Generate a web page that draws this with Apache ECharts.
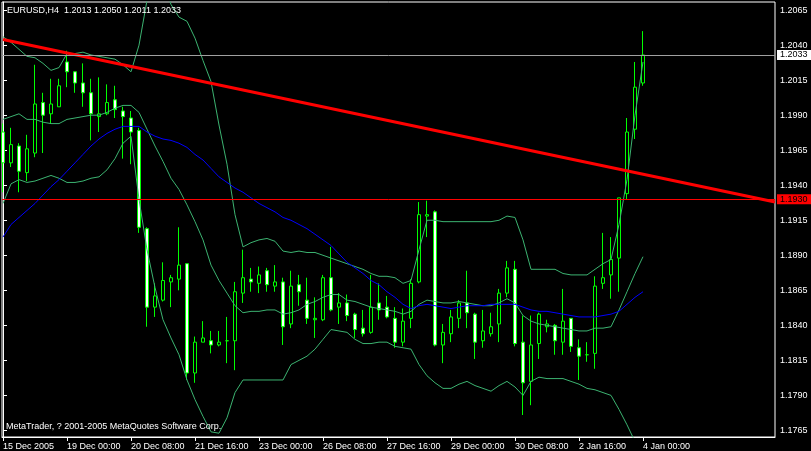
<!DOCTYPE html>
<html>
<head>
<meta charset="utf-8">
<script src="https://cdn.jsdelivr.net/npm/echarts@6/dist/echarts.min.js"></script>
<style>html,body{margin:0;padding:0;background:#000;}#c{width:811px;height:451px;}</style>
</head>
<body>
<div id="c"></div>
<script>
const symbol = 'EURUSD,H4';
const copyright = 'MetaTrader, ? 2001-2005 MetaQuotes Software Corp.';
const xTickIdx = [0, 8, 16, 24, 32, 40, 48, 56, 64, 72, 80];
const xTickLabels = ['15 Dec 2005', '19 Dec 00:00', '20 Dec 08:00', '21 Dec 16:00', '23 Dec 00:00', '26 Dec 08:00', '27 Dec 16:00', '29 Dec 00:00', '30 Dec 08:00', '2 Jan 16:00', '4 Jan 00:00'];
const yTicks = [1.1765, 1.1790, 1.1815, 1.1840, 1.1865, 1.1890, 1.1915, 1.1940, 1.1965, 1.1990, 1.2015, 1.2040, 1.2065];

const open = [1.1978,1.1956,1.1968,1.1949,1.1963,1.1999,1.1991,1.1996,1.2028,1.2021,
1.2013,1.2006,1.1989,1.1991,1.2001,1.1993,1.1988,1.1979,1.1909,1.1853,
1.1858,1.1871,1.1873,1.1884,1.1806,1.1828,1.1829,1.1826,1.1829,1.1829,
1.1863,1.1873,1.1870,1.1879,1.1868,1.1871,1.1841,1.1869,1.1858,1.1844,
1.1844,1.1874,1.1853,1.1856,1.1848,1.1838,1.1835,1.1856,1.1853,1.1845,
1.1828,1.1845,1.1871,1.1918,1.1921,1.1826,1.1834,1.1845,1.1856,1.1848,
1.1829,1.1834,1.1841,1.1863,1.1880,1.1828,1.1800,1.1827,1.1839,1.1840,
1.1828,1.1845,1.1824,1.1819,1.1820,1.1870,1.1876,1.1888,1.1934,1.1980,
1.2013];
const high = [1.1984,1.1981,1.1970,1.1976,1.2026,1.2006,1.2016,1.2016,1.2036,1.2021,
1.2027,1.2016,1.2017,1.2012,1.2011,1.1996,1.1993,1.1981,1.1910,1.1870,
1.1885,1.1876,1.1910,1.1884,1.1832,1.1843,1.1836,1.1836,1.1846,1.1871,
1.1894,1.1881,1.1882,1.1881,1.1883,1.1874,1.1879,1.1876,1.1874,1.1860,
1.1876,1.1896,1.1863,1.1862,1.1849,1.1851,1.1876,1.1870,1.1861,1.1853,
1.1852,1.1873,1.1928,1.1929,1.1922,1.1841,1.1851,1.1858,1.1879,1.1849,
1.1851,1.1849,1.1866,1.1886,1.1886,1.1847,1.1847,1.1849,1.1844,1.1841,
1.1866,1.1845,1.1830,1.1828,1.1875,1.1906,1.1903,1.1931,1.1988,1.2028,
1.2050];
const low = [1.1935,1.1953,1.1935,1.1943,1.1960,1.1963,1.1984,1.1996,1.2010,1.2006,
1.1996,1.1972,1.1978,1.1990,1.1988,1.1959,1.1955,1.1906,1.1839,1.1846,
1.1857,1.1853,1.1865,1.1801,1.1799,1.1828,1.1820,1.1825,1.1813,1.1808,
1.1856,1.1864,1.1863,1.1864,1.1864,1.1826,1.1838,1.1854,1.1841,1.1831,
1.1843,1.1850,1.1841,1.1843,1.1831,1.1832,1.1834,1.1844,1.1845,1.1824,
1.1825,1.1838,1.1870,1.1903,1.1825,1.1813,1.1828,1.1838,1.1838,1.1816,
1.1824,1.1832,1.1828,1.1860,1.1825,1.1776,1.1783,1.1816,1.1835,1.1819,
1.1819,1.1821,1.1801,1.1814,1.1809,1.1866,1.1859,1.1864,1.1930,1.1973,
1.2011];
const close = [1.1956,1.1969,1.1950,1.1966,1.1998,1.1990,1.1998,1.2011,1.2021,1.2013,
1.2006,1.1991,1.1991,1.1999,1.1994,1.1989,1.1978,1.1910,1.1853,1.1861,
1.1872,1.1874,1.1883,1.1806,1.1828,1.1831,1.1826,1.1828,1.1829,1.1864,
1.1874,1.1871,1.1876,1.1869,1.1871,1.1839,1.1868,1.1864,1.1845,1.1845,
1.1874,1.1851,1.1856,1.1847,1.1837,1.1834,1.1853,1.1851,1.1846,1.1828,
1.1843,1.1870,1.1919,1.1919,1.1826,1.1835,1.1846,1.1856,1.1849,1.1828,
1.1836,1.1839,1.1863,1.1881,1.1827,1.1799,1.1826,1.1848,1.1841,1.1829,
1.1843,1.1825,1.1818,1.1819,1.1868,1.1874,1.1887,1.1931,1.1978,1.2010,
1.2033];

const bbUpper = [1.2046,1.2042,1.2037,1.2032,1.2031,1.2027,1.2022,1.2024,1.2034,1.2034,
1.2035,1.2033,1.2032,1.2031,1.2030,1.2026,1.2021,1.2040,1.2072,1.2088,
1.2086,1.2069,1.2060,1.2057,1.2045,1.2029,1.2014,1.1983,1.1955,1.1919,
1.1896,1.1899,1.1901,1.1902,1.1900,1.1893,1.1892,1.1893,1.1892,1.1892,
1.1890,1.1888,1.1886,1.1884,1.1882,1.1880,1.1877,1.1875,1.1875,1.1874,
1.1870,1.1872,1.1894,1.1915,1.1915,1.1914,1.1914,1.1914,1.1914,1.1914,
1.1914,1.1914,1.1915,1.1918,1.1917,1.1901,1.1880,1.1880,1.1880,1.1880,
1.1877,1.1876,1.1876,1.1876,1.1880,1.1884,1.1887,1.1912,1.1944,1.1990,
1.2028];
const bbMiddle = [1.1987,1.1989,1.1991,1.1987,1.1987,1.1985,1.1984,1.1984,1.1987,1.1988,
1.1989,1.1990,1.1990,1.1992,1.1995,1.1997,1.1997,1.1992,1.1980,1.1968,
1.1957,1.1945,1.1937,1.1926,1.1914,1.1901,1.1883,1.1872,1.1863,1.1854,
1.1849,1.1850,1.1850,1.1851,1.1851,1.1848,1.1849,1.1851,1.1855,1.1857,
1.1860,1.1862,1.1862,1.1858,1.1857,1.1855,1.1853,1.1852,1.1851,1.1850,
1.1848,1.1850,1.1855,1.1858,1.1857,1.1856,1.1856,1.1857,1.1856,1.1855,
1.1854,1.1854,1.1856,1.1859,1.1856,1.1847,1.1843,1.1841,1.1840,1.1839,
1.1838,1.1837,1.1836,1.1836,1.1838,1.1838,1.1839,1.1851,1.1864,1.1877,
1.1889];
const bbLower = [1.1927,1.1941,1.1944,1.1942,1.1943,1.1945,1.1947,1.1945,1.1942,1.1942,
1.1943,1.1945,1.1946,1.1951,1.1959,1.1970,1.1975,1.1930,1.1894,1.1867,
1.1844,1.1831,1.1819,1.1801,1.1787,1.1775,1.1764,1.1763,1.1774,1.1792,
1.1801,1.1801,1.1801,1.1801,1.1801,1.1801,1.1812,1.1815,1.1818,1.1823,
1.1830,1.1837,1.1836,1.1835,1.1830,1.1827,1.1827,1.1828,1.1828,1.1825,
1.1824,1.1823,1.1812,1.1804,1.1799,1.1795,1.1795,1.1798,1.1800,1.1797,
1.1795,1.1793,1.1797,1.1800,1.1796,1.1790,1.1800,1.1803,1.1802,1.1802,
1.1802,1.1800,1.1798,1.1795,1.1794,1.1792,1.1790,1.1780,1.1769,1.1757,
1.1745];
const maBlue = [1.1903,1.1912,1.1917,1.1922,1.1927,1.1933,1.1939,1.1944,1.1950,1.1956,
1.1962,1.1968,1.1973,1.1977,1.1980,1.1982,1.1982,1.1982,1.1978,1.1975,
1.1973,1.1972,1.1970,1.1967,1.1962,1.1958,1.1952,1.1946,1.1942,1.1938,
1.1935,1.1931,1.1927,1.1924,1.1921,1.1917,1.1915,1.1912,1.1909,1.1905,
1.1901,1.1897,1.1891,1.1885,1.1881,1.1877,1.1872,1.1869,1.1864,1.1860,
1.1855,1.1852,1.1854,1.1855,1.1854,1.1853,1.1852,1.1853,1.1854,1.1854,
1.1854,1.1855,1.1855,1.1855,1.1855,1.1853,1.1851,1.1850,1.1850,1.1849,
1.1848,1.1847,1.1846,1.1846,1.1846,1.1847,1.1848,1.1850,1.1855,1.1860,
1.1864];

const trendIdx = [0, 96.5];
const trendVal = [1.2044, 1.1928];
const bidPrice = 1.2033;
const hLinePrice = 1.1930;

const FONT = '"Liberation Sans", Arial, sans-serif';
const last = close.length - 1;
const candleData = open.map((o, i) => [i, o, close[i], low[i], high[i]]);
const toLine = arr => arr.map((v, i) => [i, v]);
const bandColor = '#3cb371';

const chart = echarts.init(document.getElementById('c'), null, { renderer: 'canvas' });
chart.setOption({
  backgroundColor: '#000',
  animation: false,
  title: [
    { text: symbol + '  ' + [open[last], high[last], low[last], close[last]].map(v => v.toFixed(4)).join(' '),
      left: 7, top: 6, padding: 0,
      textStyle: { color: '#fff', fontSize: 9, fontFamily: FONT, fontWeight: 'normal' } },
    { text: copyright, left: 6, top: 422, padding: 0,
      textStyle: { color: '#fff', fontSize: 9, fontFamily: FONT, fontWeight: 'normal' } }
  ],
  grid: { left: 2, top: 2, width: 773, height: 435, show: true, borderColor: '#fff', borderWidth: 1, backgroundColor: '#000', containLabel: false },
  xAxis: {
    type: 'value', min: -0.125, max: 96.5,
    axisLine: { show: true, onZero: false, lineStyle: { color: '#fff', width: 1 } },
    splitLine: { show: false },
    axisTick: { show: true, length: 4, lineStyle: { color: '#fff' }, customValues: xTickIdx },
    axisLabel: {
      customValues: xTickIdx,
      formatter: v => { const k = xTickIdx.indexOf(Math.round(v)); return k >= 0 ? xTickLabels[k] : ''; },
      color: '#fff', fontSize: 9, fontFamily: FONT, align: 'left', margin: 5
    }
  },
  yAxis: {
    type: 'value', position: 'right', min: 1.17603, max: 1.20708, scale: true,
    axisLine: { show: true, lineStyle: { color: '#fff', width: 1 } },
    splitLine: { show: false },
    axisTick: { show: true, length: 4, lineStyle: { color: '#fff' }, customValues: yTicks },
    axisLabel: {
      customValues: yTicks,
      formatter: v => v.toFixed(4),
      color: '#fff', fontSize: 9, fontFamily: FONT, margin: 5, padding: [4, 0, 0, 0]
    }
  },
  series: [
    {
      type: 'candlestick', data: candleData, encode: { x: 0, y: [1, 2, 3, 4] },
      barWidth: 4, z: 1,
      itemStyle: { color: '#000', color0: '#fff', borderColor: '#00ff00', borderColor0: '#00ff00', borderColorDoji: '#00ff00', borderWidth: 1 }
    },
    { type: 'line', data: toLine(bbUpper), showSymbol: false, z: 3, lineStyle: { color: bandColor, width: 1 } },
    { type: 'line', data: toLine(bbMiddle), showSymbol: false, z: 3, lineStyle: { color: bandColor, width: 1 } },
    { type: 'line', data: toLine(bbLower), showSymbol: false, z: 3, lineStyle: { color: bandColor, width: 1 } },
    { type: 'line', data: toLine(maBlue), showSymbol: false, z: 3, lineStyle: { color: '#0000ff', width: 1 } },
    {
      type: 'line', data: trendIdx.map((x, k) => [x, trendVal[k]]), showSymbol: false, z: 4,
      lineStyle: { color: '#ff0000', width: 3 },
      markLine: {
        symbol: 'none', silent: true, animation: false, precision: 5,
        data: [
          { yAxis: bidPrice, lineStyle: { color: '#a0a0a0', width: 1, type: 'solid' },
            label: { show: true, position: 'end', formatter: bidPrice.toFixed(4), backgroundColor: '#fff', color: '#000', fontSize: 9, fontFamily: FONT, padding: [1, 6, 0, 3], distance: 2 } },
          { yAxis: hLinePrice, lineStyle: { color: '#ff0000', width: 1, type: 'solid' },
            label: { show: true, position: 'end', formatter: hLinePrice.toFixed(4), backgroundColor: '#ff0000', color: '#000', fontSize: 9, fontFamily: FONT, padding: [1, 6, 0, 3], distance: 2 } }
        ]
      }
    }
  ]
});
</script>
</body>
</html>
